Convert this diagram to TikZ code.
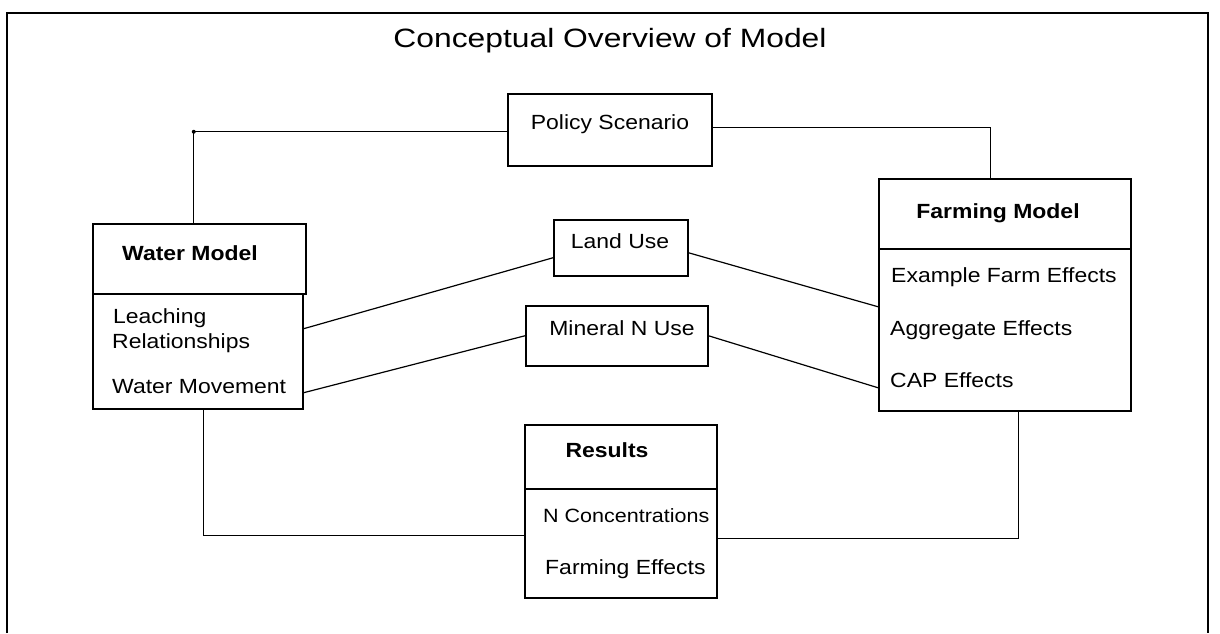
\documentclass[tikz,border=0pt]{standalone}
\usepackage{fontspec}
\setmainfont{Liberation Sans}
\newfontfamily\bodyf[FakeStretch=1.12]{Liberation Sans}
\newfontfamily\titlef[FakeStretch=1.2]{Liberation Sans}
\begin{document}
\begin{tikzpicture}[x=1pt,y=-1pt,
  box/.style={draw,line width=1.5pt,inner sep=0pt,anchor=north west},
  conn/.style={line width=1.2pt},
  txt/.style={inner sep=0pt,font=\bodyf\fontsize{20.5}{24}\selectfont},
  btxt/.style={inner sep=0pt,font=\bodyf\bfseries\fontsize{20.5}{24}\selectfont},
  dot/.style={circle,fill,inner sep=0pt,minimum size=4pt}]
\useasboundingbox (0,0) rectangle (1220,633);
% frame
\draw[line width=1.6pt] (7,633) -- (7,13) -- (1208,13) -- (1208,633);
% title
\node[anchor=base,inner sep=0pt,font=\titlef\fontsize{26.5}{30}\selectfont] (title) at (610,47) {Conceptual Overview of Model};
% boxes
\node[box,minimum width=204pt,minimum height=72pt] (pol) at (507,93) {};
\node[box,minimum width=213pt,minimum height=70pt] (wh) at (92,223) {};
\node[box,minimum width=210pt,minimum height=115pt] (wb) at (92,293) {};
\node[box,minimum width=252pt,minimum height=70pt] (fh) at (878,178) {};
\node[box,minimum width=252pt,minimum height=162pt] (fb) at (878,248) {};
\node[box,minimum width=134pt,minimum height=56pt] (land) at (553,219) {};
\node[box,minimum width=182pt,minimum height=60pt] (mn) at (525,305) {};
\node[box,minimum width=192pt,minimum height=64pt] (rh) at (524,424) {};
\node[box,minimum width=192pt,minimum height=109pt] (rb) at (524,488) {};
% texts
\node[txt,anchor=base] (tpol) at (610,129) {Policy Scenario};
\node[txt,anchor=base] (tland) at (620,248) {Land Use};
\node[txt,anchor=base] (tmn) at (622,335) {Mineral N Use};
\node[btxt,anchor=base] (twh) at (190,260) {Water Model};
\node[txt,anchor=base west] (tw1) at (113,323) {Leaching};
\node[txt,anchor=base west] (tw2) at (112,348) {Relationships};
\node[txt,anchor=base west] (tw3) at (112,393) {Water Movement};
\node[btxt,anchor=base] (tfh) at (998,218) {Farming Model};
\node[txt,anchor=base west] (tf1) at (891,282) {Example Farm Effects};
\node[txt,anchor=base west] (tf2) at (890,335) {Aggregate Effects};
\node[txt,anchor=base west] (tf3) at (890,387) {CAP Effects};
\node[btxt,anchor=base] (trh) at (607,457) {Results};
\node[txt,anchor=base west,font=\bodyf\fontsize{19.2}{23}\selectfont] (tr1) at (543,522) {N Concentrations};
\node[txt,anchor=base west] (tr2) at (545,574) {Farming Effects};
% connectors
\draw[conn] ([yshift=-2pt]pol.west) -| node[dot,pos=0.5] (jn) {} ([xshift=-5.5pt]wh.north);
\draw[conn] ([yshift=2pt]pol.east) -| ([xshift=-14pt]fh.north);
\draw[conn] ([xshift=6pt]wb.south) |- ([yshift=7.5pt]rb.west);
\draw[conn] ([xshift=14pt]fb.south) |- ([yshift=4.5pt]rb.east);
\draw[conn] ([yshift=22.5pt]wb.east) -- ([yshift=-10pt]land.west);
\draw[conn] ([yshift=-41.5pt]wb.east) -- (mn.west);
\draw[conn] ([yshift=-5pt]land.east) -- ([yshift=23pt]fb.west);
\draw[conn] (mn.east) -- ([yshift=-58pt]fb.west);
\end{tikzpicture}
\end{document}
